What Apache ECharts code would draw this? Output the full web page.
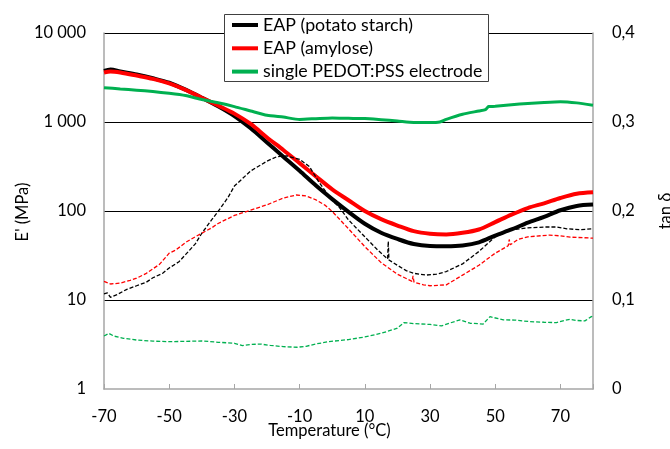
<!DOCTYPE html>
<html lang="en">
<head>
    <meta charset="UTF-8">
    <title>DMA</title>
    <script src="https://cdn.jsdelivr.net/npm/echarts@6/dist/echarts.min.js"></script>
    <style>
        html, body { margin: 0; padding: 0; background: #fff; }
        #chart { width: 670px; height: 449px; }
    </style>
</head>
<body>
<div id="chart"></div>
<script type="text/javascript">
    // E' (MPa), left log axis
    var tempPotato = [-70, -68, -65, -60, -55, -50, -45, -40, -35, -30, -25, -20, -15, -10, -5, 0, 5, 10, 15, 20, 25, 30, 35, 40, 45, 50, 55, 60, 65, 70, 75, 80];
    var ePotato    = [3750, 3900, 3700, 3420, 3100, 2760, 2310, 1875, 1505, 1168, 850, 589, 408, 283, 193, 136, 98, 72, 57, 48.5, 42.5, 40.4, 40.2, 41, 44.5, 53, 62, 74, 86, 102, 114, 118];

    var tempAmylose = [-70, -68, -65, -60, -55, -50, -45, -40, -35, -30, -25, -20, -15, -10, -5, 0, 5, 10, 15, 20, 25, 30, 35, 40, 45, 50, 55, 60, 65, 70, 75, 80];
    var eAmylose    = [3600, 3700, 3600, 3325, 3050, 2710, 2300, 1875, 1530, 1242, 950, 670, 485, 345, 245, 175, 132, 100, 81, 68.7, 59.4, 55.5, 54.5, 56.9, 62, 75, 91, 108, 122, 140, 156, 162];

    var tempPedot = [-70, -65, -60, -55, -50, -45, -40, -35, -30, -25, -20, -15, -10, -5, 0, 5, 10, 15, 20, 25, 30, 33, 35, 40, 45, 47, 48, 50, 55, 60, 65, 70, 75, 80];
    var ePedot    = [2430, 2350, 2280, 2200, 2100, 1980, 1790, 1645, 1490, 1330, 1190, 1135, 1070, 1090, 1110, 1100, 1092, 1060, 1026, 990, 985, 1000, 1070, 1220, 1330, 1380, 1490, 1500, 1560, 1617, 1660, 1690, 1640, 1540];

    // tan delta, right axis
    var tdTempPotato = [-70, -69, -68, -66, -63, -60, -57, -55, -52, -50, -47, -45, -42, -40, -37, -35, -32, -30, -25, -20, -17, -14, -10, -7, -4, 0, 2, 5, 10, 14, 17, 17.2, 17.4, 20, 22.7, 25, 28.8, 32, 35, 40, 45, 50, 55, 60, 65, 68.8, 72, 76, 80];
    var tdPotato     = [0.107, 0.108, 0.103, 0.106, 0.112, 0.116, 0.120, 0.125, 0.130, 0.136, 0.143, 0.151, 0.163, 0.175, 0.190, 0.1995, 0.215, 0.228, 0.245, 0.256, 0.261, 0.262, 0.258, 0.250, 0.232, 0.212, 0.205, 0.190, 0.171, 0.156, 0.146, 0.166, 0.145, 0.139, 0.133, 0.130, 0.128, 0.129, 0.132, 0.1406, 0.1545, 0.171, 0.179, 0.181, 0.182, 0.182, 0.180, 0.179, 0.180];

    var tdTempAmylose = [-70, -68, -65, -62, -60, -57, -55, -53, -50, -48, -45, -42, -40, -37, -35, -30, -25, -20, -15, -11, -8, -5, -2, 0, 5, 10, 15, 20, 24.5, 24.8, 25.1, 28, 30, 35, 40, 45, 50, 54, 54.3, 54.6, 57, 60, 66.7, 70, 73, 77, 80];
    var tdAmylose     = [0.121, 0.118, 0.119, 0.122, 0.1245, 0.130, 0.135, 0.140, 0.1526, 0.156, 0.1646, 0.171, 0.175, 0.181, 0.186, 0.195, 0.201, 0.207, 0.2145, 0.218, 0.217, 0.2126, 0.206, 0.1995, 0.180, 0.160, 0.142, 0.129, 0.121, 0.127, 0.120, 0.117, 0.116, 0.117, 0.128, 0.139, 0.1526, 0.161, 0.168, 0.162, 0.168, 0.171, 0.173, 0.172, 0.1706, 0.170, 0.1695];

    var tdTempPedot = [-70, -68.5, -67, -64, -60, -55, -50, -45, -40, -35, -30, -27.5, -25, -22, -19, -15, -10.7, -8, -5, -1, 5, 10, 15, 19.8, 22, 25, 30, 33.5, 36, 39.2, 42.3, 46.3, 48.4, 52.5, 56, 60.6, 65, 68.8, 72.9, 75, 77.5, 79.5, 80];
    var tdPedot     = [0.0596, 0.0625, 0.0595, 0.057, 0.055, 0.0538, 0.0532, 0.0535, 0.054, 0.0525, 0.0514, 0.0487, 0.050, 0.0505, 0.049, 0.0476, 0.0469, 0.048, 0.0506, 0.0532, 0.0555, 0.0585, 0.0626, 0.068, 0.0746, 0.0735, 0.0725, 0.0709, 0.074, 0.0776, 0.0739, 0.073, 0.0813, 0.0776, 0.0775, 0.0757, 0.075, 0.0746, 0.0784, 0.077, 0.0765, 0.0813, 0.082];

    var xLabels = [-70, -50, -30, -10, 10, 30, 50, 70];
    var xTicks  = [-70, -50, -30, -10, 10, 30, 50, 70, 80];

    var legendNames = ['EAP (potato starch)', 'EAP (amylose)', 'single PEDOT:PSS electrode'];

    function pairs(xs, ys) {
        var out = [];
        for (var i = 0; i < xs.length; i++) {
            out.push([xs[i], ys[i]]);
        }
        return out;
    }

    var font = 'Lato';
    var axisGray = '#a6a6a6';

    var myChart = echarts.init(document.getElementById('chart'));
    var option = {
        animation: false,
        textStyle: { fontFamily: font },
        grid: { left: 104, right: 77, top: 33, bottom: 60, outerBoundsMode: 'none', containLabel: false },
        graphic: [
            {
                type: 'rect',
                z: 3,
                shape: { x: 224.5, y: 14.5, width: 264, height: 67 },
                style: { fill: '#fff', stroke: '#404040', lineWidth: 1 }
            },
            {
                // left axis title
                type: 'text',
                x: 23,
                y: 212,
                rotation: Math.PI / 2,
                style: {
                    text: "E' (MPa)",
                    fontFamily: font,
                    fontSize: 16.5,
                    fill: '#000',
                    align: 'center',
                    verticalAlign: 'middle'
                }
            }
        ],
        legend: {
            data: legendNames,
            orient: 'vertical',
            left: 232,
            top: 15,
            padding: 0,
            icon: 'rect',
            itemWidth: 26,
            itemHeight: 4,
            itemGap: 3.3,
            z: 5,
            textStyle: { fontFamily: font, fontSize: 17.8, lineHeight: 20, color: '#000' }
        },
        xAxis: {
            type: 'value',
            min: -70,
            max: 80,
            name: 'Temperature (°C)',
            nameLocation: 'middle',
            nameGap: 33,
            nameMoveOverlap: false,
            nameTextStyle: { fontFamily: font, fontSize: 16.5, color: '#000', padding: [0, 38, 0, 0] },
            axisLine: { show: true, onZero: false, lineStyle: { color: axisGray, width: 1.5 } },
            axisTick: { show: true, inside: true, length: 5, customValues: xTicks, lineStyle: { color: axisGray } },
            axisLabel: { customValues: xLabels, margin: 19, fontFamily: font, fontSize: 16.5, color: '#000' },
            splitLine: { show: false }
        },
        yAxis: [
            {
                type: 'log',
                logBase: 10,
                min: 1,
                max: 10000,
                position: 'left',
                axisLine: { show: true, onZero: false, lineStyle: { color: axisGray, width: 1.5 } },
                axisTick: { show: false },
                axisLabel: {
                    margin: 18,
                    fontFamily: font,
                    fontSize: 16.5,
                    color: '#000',
                    formatter: function (v) {
                        return String(Math.round(v)).replace(/\B(?=(\d{3})+(?!\d))/g, ' ');
                    }
                },
                splitLine: { show: true, showMinLine: false, lineStyle: { color: '#000', width: 1 } }
            },
            {
                type: 'value',
                min: 0,
                max: 0.4,
                interval: 0.1,
                position: 'right',
                name: 'tan δ',
                nameLocation: 'middle',
                nameGap: 64,
                nameRotate: 90,
                nameTextStyle: { fontFamily: font, fontSize: 16.5, color: '#000' },
                axisLine: { show: true, onZero: false, lineStyle: { color: axisGray, width: 1.5 } },
                axisTick: { show: false },
                axisLabel: {
                    margin: 19,
                    fontFamily: font,
                    fontSize: 16.5,
                    color: '#000',
                    formatter: function (v) {
                        return v === 0 ? '0' : v.toFixed(1).replace('.', ',');
                    }
                },
                splitLine: { show: false }
            }
        ],
        series: [
            {
                name: legendNames[0],
                type: 'line',
                yAxisIndex: 0,
                symbol: 'none',
                smooth: 0.3,
                color: '#000000',
                lineStyle: { color: '#000000', width: 4 },
                data: pairs(tempPotato, ePotato)
            },
            {
                name: legendNames[1],
                type: 'line',
                yAxisIndex: 0,
                symbol: 'none',
                smooth: 0.3,
                color: '#ff0000',
                lineStyle: { color: '#ff0000', width: 4 },
                data: pairs(tempAmylose, eAmylose)
            },
            {
                name: legendNames[2],
                type: 'line',
                yAxisIndex: 0,
                symbol: 'none',
                smooth: 0.2,
                color: '#00b050',
                lineStyle: { color: '#00b050', width: 3 },
                data: pairs(tempPedot, ePedot)
            },
            {
                name: 'tan δ (potato starch)',
                type: 'line',
                yAxisIndex: 1,
                symbol: 'none',
                color: '#000000',
                lineStyle: { color: '#000000', width: 1.3, type: [4, 2] },
                data: pairs(tdTempPotato, tdPotato)
            },
            {
                name: 'tan δ (amylose)',
                type: 'line',
                yAxisIndex: 1,
                symbol: 'none',
                color: '#ff0000',
                lineStyle: { color: '#ff0000', width: 1.3, type: [4, 2] },
                data: pairs(tdTempAmylose, tdAmylose)
            },
            {
                name: 'tan δ (PEDOT:PSS)',
                type: 'line',
                yAxisIndex: 1,
                symbol: 'none',
                color: '#00b050',
                lineStyle: { color: '#00b050', width: 1.3, type: [4, 2] },
                data: pairs(tdTempPedot, tdPedot)
            }
        ]
    };
    myChart.setOption(option);
</script>
</body>
</html>
